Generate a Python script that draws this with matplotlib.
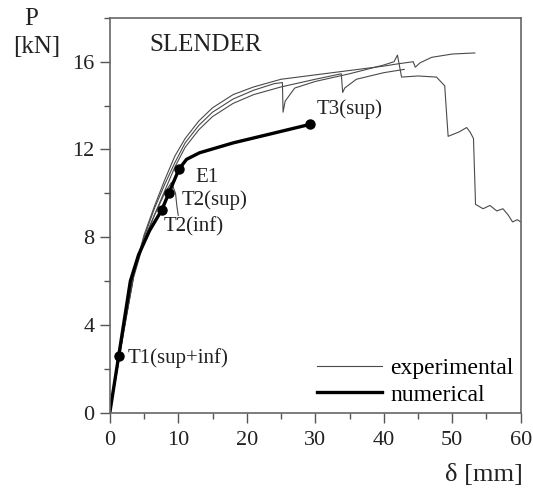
import matplotlib
matplotlib.use("Agg")
import matplotlib.pyplot as plt
from matplotlib.ticker import MultipleLocator

# experimental load-deflection curves (delta [mm], P [kN])
exp1_x = [0, 2, 3.5, 5, 6.5, 8, 9.5, 11, 13, 15, 18, 21, 25, 30, 35, 40, 42, 44.3, 44.6, 45.3, 47, 50, 53.3]
exp1_y = [0, 3.8, 6.4, 8.1, 9.4, 10.6, 11.7, 12.5, 13.3, 13.9, 14.5, 14.85, 15.2, 15.4, 15.6, 15.8, 15.9, 16.0, 15.75, 15.95, 16.2, 16.35, 16.4]

exp2_x = [0, 2, 3.5, 5, 6.5, 8, 9.5, 11, 13, 15, 18, 21, 24, 25.2, 25.3, 25.6, 27, 30, 35, 40, 41.5, 42, 42.6,
          45, 47.7, 48.9, 49.2, 49.4, 51, 52.1, 52.6, 53.1, 53.4, 54.5, 55.5, 56.5, 57.4, 58.2, 58.8, 59.5, 60]
exp2_y = [0, 3.6, 6.3, 8.0, 9.3, 10.4, 11.4, 12.3, 13.1, 13.7, 14.3, 14.7, 15.0, 15.05, 13.7, 14.2, 14.8, 15.1,
          15.45, 15.85, 16.0, 16.3, 15.3, 15.35, 15.3, 14.9, 13.5, 12.6, 12.8, 13.0, 12.8, 12.5, 9.5, 9.3,
          9.45, 9.2, 9.3, 9.0, 8.7, 8.8, 8.7]

exp3_x = [0, 2, 3.5, 5, 6.5, 8, 9.5, 11, 13, 15, 18, 21, 25, 30, 33.8, 34.0, 34.3, 36, 40, 43]
exp3_y = [0, 3.7, 6.2, 7.8, 9.0, 10.1, 11.2, 12.1, 12.9, 13.5, 14.1, 14.5, 14.85, 15.2, 15.45, 14.6, 14.8, 15.2, 15.5, 15.65]

exp4_x = [0, 2, 3.5, 5, 6.5, 8, 9.0, 9.6, 9.8, 10.0]
exp4_y = [0, 3.7, 6.3, 7.9, 9.0, 10.0, 10.5, 10.0, 9.4, 9.0]

# numerical curve
num_x = [0, 1.3, 3.0, 4.2, 5.8, 7.6, 8.6, 10.1, 11.2, 13.1, 18, 24, 29.3]
num_y = [0, 2.6, 6.0, 7.2, 8.3, 9.25, 10.0, 11.1, 11.55, 11.85, 12.3, 12.75, 13.15]

# marked events on the numerical curve
event_labels = ["T1(sup+inf)", "T2(inf)", "T2(sup)", "E1", "T3(sup)"]
event_x = [1.3, 7.6, 8.6, 10.1, 29.3]
event_y = [2.6, 9.25, 10.0, 11.1, 13.15]
event_offsets = [(9, -2), (2, -17), (13, -7), (16, -8), (6, 15)]

plt.rcParams["font.family"] = ["Liberation Serif", "DejaVu Serif"]

fig = plt.figure(figsize=(5.33, 4.95), dpi=100)
ax = fig.add_axes([0.206, 0.166, 0.771, 0.798])

exp_color = "#4a4a4a"
for xs, ys in [(exp1_x, exp1_y), (exp2_x, exp2_y), (exp3_x, exp3_y), (exp4_x, exp4_y)]:
    ax.plot(xs, ys, color=exp_color, lw=0.8)
ax.plot([], [], color=exp_color, lw=0.8, label="experimental")
ax.plot(num_x, num_y, color="black", lw=2.4, label="numerical")
ax.plot(event_x, event_y, "o", color="black", ms=6.5, zorder=5)

for lab, x, y, off in zip(event_labels, event_x, event_y, event_offsets):
    ax.annotate(lab, (x, y), xytext=off, textcoords="offset pixels",
                ha="left", va="center", fontsize=15, color="#222222")

ax.text(0.097, 0.93, "SLENDER", transform=ax.transAxes, fontsize=18,
        ha="left", va="center", color="#222222")

ax.set_xlim(0, 60)
ax.set_ylim(0, 18)
ax.xaxis.set_major_locator(MultipleLocator(10))
ax.xaxis.set_minor_locator(MultipleLocator(5))
ax.yaxis.set_minor_locator(MultipleLocator(2))
ax.set_yticks([0, 4, 8, 12, 16])
ax.tick_params(which="both", direction="out", colors="#555555", labelcolor="#222222",
               labelsize=16, top=False, right=False)
ax.tick_params(which="major", length=7, width=1)
ax.tick_params(which="minor", length=4, width=1)
ax.tick_params(axis="x", pad=6)
ax.tick_params(axis="y", pad=4)
for sp in ax.spines.values():
    sp.set_color("#666666")
    sp.set_linewidth(1.2)

fig.text(31 / 533, 1 - 19 / 495, "P", fontsize=18, ha="center", va="center", color="#222222")
fig.text(37 / 533, 1 - 47 / 495, "[kN]", fontsize=18, ha="center", va="center", color="#222222")
fig.text(523 / 533, 1 - 475 / 495, "δ [mm]", fontsize=19, ha="right", va="center", color="#222222")

ax.legend(loc="lower right", bbox_to_anchor=(1.0, 0.0), frameon=False, fontsize=17,
          handlelength=2.75, handletextpad=0.35, labelspacing=0.2, borderaxespad=0.0,
          borderpad=0.3)

fig.savefig("out.png", dpi=100)
